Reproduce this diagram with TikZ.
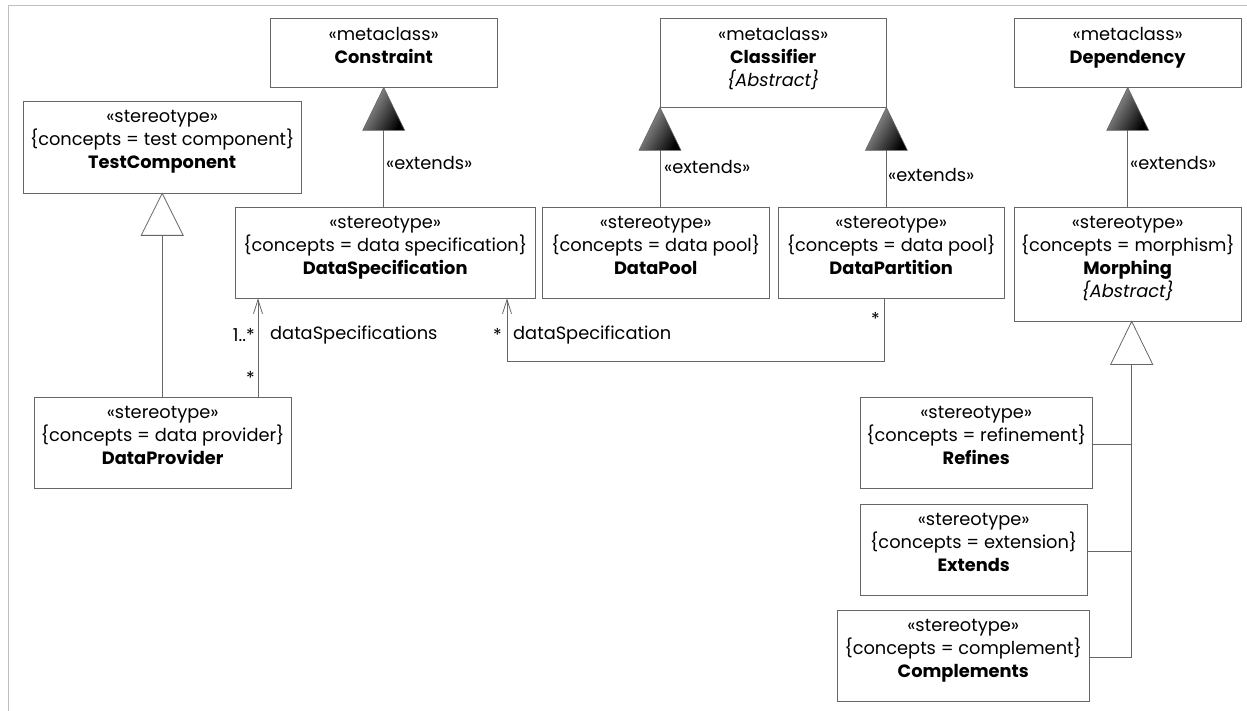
\documentclass[tikz,border=0pt]{standalone}
\usepackage{fontspec}
\setmainfont{Poppins}
\usetikzlibrary{arrows.meta}

\newcommand{\umltext}[3]{\parbox[c][#2pt][t]{#1pt}{\centering\vspace*{9.5pt}#3}}

\begin{document}
\begin{tikzpicture}[x=1pt, y=-1pt, >={Straight Barb[length=14pt,width=9pt]},
  umlbox/.style={draw=black!60, anchor=north west, inner sep=0pt, font=\fontsize{17.8}{23}\selectfont},
  umlline/.style={draw=black!60, line width=0.8pt},
  extendtri/.style={draw=black!60, line width=0.6pt, left color=black!35, right color=black, shading angle=60},
  gentri/.style={draw=black!60, line width=0.8pt, fill=white},
  lbl/.style={inner sep=0pt, font=\fontsize{17.8}{20}\selectfont}]

\useasboundingbox (0,0) rectangle (1247,711);

% --- Cornice ---
\draw[black!25, line width=1pt] (8,711) -- (8,6) -- (1247,6);

% --- Metaclassi ---
\node[umlbox] (constraint) at (270,18) {\umltext{227}{69}{«metaclass»\\\textbf{Constraint}}};
\node[umlbox] (classifier) at (660,18) {\umltext{226}{89}{«metaclass»\\\textbf{Classifier}\\\textit{\{Abstract\}}}};
\node[umlbox] (dependency) at (1014,18) {\umltext{227}{69}{«metaclass»\\\textbf{Dependency}}};

% --- Stereotipi ---
\node[umlbox] (testcomp) at (23,101) {\umltext{278}{92}{«stereotype»\\\{concepts = test component\}\\\textbf{TestComponent}}};
\node[umlbox] (dataspec) at (235,207) {\umltext{300}{91}{«stereotype»\\\{concepts = data specification\}\\\textbf{DataSpecification}}};
\node[umlbox] (datapool) at (542,207) {\umltext{227}{91}{«stereotype»\\\{concepts = data pool\}\\\textbf{DataPool}}};
\node[umlbox] (datapart) at (778,207) {\umltext{226}{91}{«stereotype»\\\{concepts = data pool\}\\\textbf{DataPartition}}};
\node[umlbox] (morphing) at (1014,207) {\umltext{227}{114}{«stereotype»\\\{concepts = morphism\}\\\textbf{Morphing}\\\textit{\{Abstract\}}}};
\node[umlbox] (dataprov) at (34,397) {\umltext{257}{91}{«stereotype»\\\{concepts = data provider\}\\\textbf{DataProvider}}};
\node[umlbox] (refines) at (860,397) {\umltext{232}{91}{«stereotype»\\\{concepts = refinement\}\\\textbf{Refines}}};
\node[umlbox] (extends) at (860,504) {\umltext{227}{91}{«stereotype»\\\{concepts = extension\}\\\textbf{Extends}}};
\node[umlbox] (complements) at (837,610) {\umltext{252}{91}{«stereotype»\\\{concepts = complement\}\\\textbf{Complements}}};

% --- Estensioni (triangoli pieni) ---
\draw[umlline] (constraint.south) -- (constraint.south |- dataspec.north);
\draw[umlline] (classifier.south west) -- (classifier.south west |- datapool.north);
\draw[umlline] (classifier.south east) -- (classifier.south east |- datapart.north);
\draw[umlline] (dependency.south) -- (dependency.south |- morphing.north);
\foreach \a in {constraint.south, classifier.south west, classifier.south east, dependency.south}{
    \shadedraw[extendtri] (\a) -- ++(21,43) -- ++(-42,0) -- cycle;
}
\node[lbl, anchor=west] (ext1) at (386,163) {«extends»};
\node[lbl, anchor=west] (ext2) at (664,167) {«extends»};
\node[lbl, anchor=west] (ext3) at (888,175) {«extends»};
\node[lbl, anchor=west] (ext4) at (1130,163) {«extends»};

% --- Generalizzazioni (triangoli vuoti) ---
\draw[umlline] (testcomp.south) -- (testcomp.south |- dataprov.north);
\draw[gentri] (testcomp.south) -- ++(21,42) -- ++(-42,0) -- cycle;

\coordinate (morphtip) at ([xshift=4pt]morphing.south);
\draw[umlline] (morphtip) -- ([yshift=-1.5pt]morphtip |- complements.east);
\foreach \n in {refines, extends, complements}{
    \draw[umlline] ([yshift=-1.5pt]\n.east) -- ([yshift=-1.5pt]\n.east -| morphtip);
}
\draw[gentri] (morphtip) -- ++(21,43) -- ++(-42,0) -- cycle;

% --- Associazioni ---
\draw[umlline, ->] ([xshift=224pt]dataprov.north west) -- ([xshift=224pt]dataprov.north west |- dataspec.south);
\node[lbl, anchor=east] (m1) at (255,335) {1..*};
\node[lbl, anchor=east] (m2) at (255,378) {*};
\node[lbl, anchor=west] (r1) at (270,335) {dataSpecifications};

\draw[umlline, ->] ([xshift=-7pt]datapart.south) -- ++(0,63) -| ([xshift=272pt]dataspec.south west);
\node[lbl, anchor=east] (m3) at (880,319) {*};
\node[lbl, anchor=east] (m4) at (502,335) {*};
\node[lbl, anchor=west] (r2) at (513,335) {dataSpecification};

\end{tikzpicture}
\end{document}
